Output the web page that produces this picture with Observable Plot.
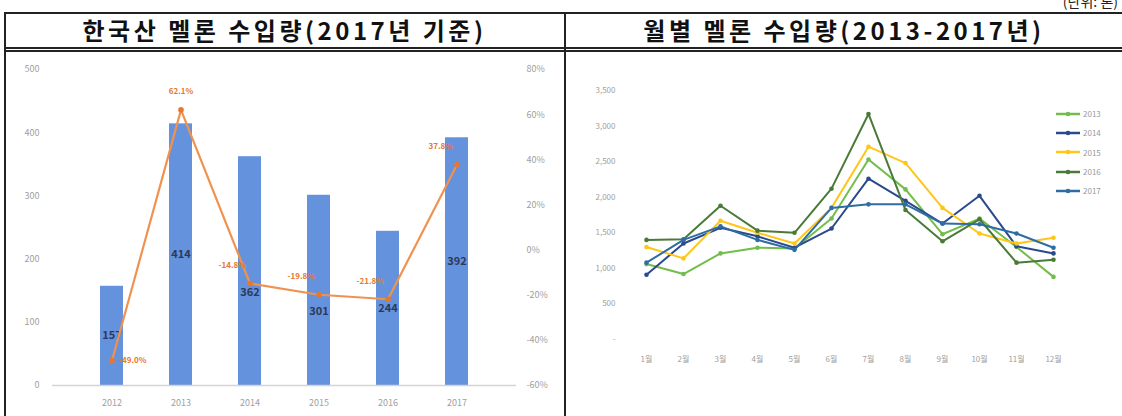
<!DOCTYPE html>
<html>
<head>
<meta charset="utf-8">
<script src="https://cdn.jsdelivr.net/npm/d3@7"></script>
<script src="https://cdn.jsdelivr.net/npm/@observablehq/plot@0.6"></script>
<style>
  html, body { margin: 0; padding: 0; background: #fff; }
  #page { position: relative; width: 1122px; height: 416px; overflow: hidden; background: #fff; font-family: "Noto Sans CJK KR", "Noto Sans", sans-serif; }
  .hline { position: absolute; background: #222; }
  .vline { position: absolute; background: #222; }
  .title { position: absolute; top: 12px; height: 36px; line-height: 36px; text-align: center; font-weight: 700; font-size: 24px; letter-spacing: 3.5px; color: #111; }
  #unit { position: absolute; right: 4px; top: -8px; font-size: 14px; line-height: 18px; color: #222; }
  #left, #right { position: absolute; top: 52px; }
  #legend { position: absolute; left: 1055px; top: 104px; font-size: 8px; color: #999; }
  #legend .item { height: 19.3px; display: flex; align-items: center; }
  #legend svg { margin-right: 2px; }
</style>
</head>
<body>
<div id="page">
  <div id="unit">(단위: 톤)</div>
  <div class="hline" style="left:4px; top:12px; width:1118px; height:2px;"></div>
  <div class="hline" style="left:4px; top:47px; width:1118px; height:1.5px;"></div>
  <div class="hline" style="left:4px; top:50px; width:1118px; height:1.5px;"></div>
  <div class="vline" style="left:4px; top:12px; width:1.5px; height:404px;"></div>
  <div class="vline" style="left:564px; top:12px; width:1.5px; height:404px;"></div>
  <div class="title" style="left:5px; width:559px;">한국산 멜론 수입량(2017년 기준)</div>
  <div class="title" style="left:566px; width:556px;">월별 멜론 수입량(2013-2017년)</div>
  <div id="left"></div>
  <div id="right"></div>
  <div id="legend"></div>
</div>
<script>
// ---- Left chart data ----
const years = ["2012", "2013", "2014", "2015", "2016", "2017"];
const imports = [157, 414, 362, 301, 244, 392];
const growth = [-49.0, 62.1, -14.8, -19.8, -21.8, 37.8];
const countTicks = [0, 100, 200, 300, 400, 500];
const pctTicks = [-60, -40, -20, 0, 20, 40, 60, 80];

// ---- Right chart data ----
const months = ["1월", "2월", "3월", "4월", "5월", "6월", "7월", "8월", "9월", "10월", "11월", "12월"];
const seriesNames = ["2013", "2014", "2015", "2016", "2017"];
const v2013 = [1060, 920, 1210, 1290, 1280, 1700, 2530, 2110, 1480, 1700, 1300, 880];
const v2014 = [910, 1350, 1570, 1450, 1290, 1560, 2260, 1950, 1630, 2020, 1310, 1210];
const v2015 = [1300, 1140, 1670, 1500, 1350, 1850, 2710, 2480, 1850, 1490, 1350, 1430];
const v2016 = [1400, 1410, 1880, 1530, 1500, 2120, 3170, 1820, 1380, 1690, 1080, 1120];
const v2017 = [1080, 1400, 1590, 1400, 1260, 1850, 1900, 1900, 1630, 1620, 1490, 1290];
const monthTicks = [0, 500, 1000, 1500, 2000, 2500, 3000, 3500];
const seriesColors = ["#72BD4C", "#2A4A8C", "#FFC61A", "#4A7A38", "#2E6DA4"];

// ---- Left chart ----
const pctMin = -60, pctMax = 80, countMax = 500;
const toCount = p => (p - pctMin) / (pctMax - pctMin) * countMax;
const barData = years.map((y, i) => ({year: y, value: imports[i]}));
const lineData = years.map((y, i) => ({year: y, pct: growth[i], pos: toCount(growth[i])}));
const fmtPct = d => d.pct.toFixed(1) + "%";
const shifted = ["2014", "2015"]; // labels nudged below the line in the source

const left = Plot.plot({
  width: 559, height: 364,
  marginLeft: 47, marginRight: 48, marginTop: 17, marginBottom: 31,
  x: {domain: years, padding: 0.67},
  y: {domain: [0, countMax]},
  style: {fontFamily: "'Noto Sans CJK KR', 'Noto Sans', sans-serif", fontSize: "9px", color: "#a0a0a0", background: "transparent"},
  marks: [
    Plot.axisX({tickSize: 0, tickPadding: 14, label: null}),
    Plot.axisY({ticks: countTicks, tickSize: 0, tickPadding: 13, label: null}),
    Plot.axisY({anchor: "right", ticks: pctTicks.map(toCount), tickFormat: (d, i) => pctTicks[i] + "%", tickSize: 0, tickPadding: 10, label: null}),
    Plot.barY(barData, {x: "year", y: "value", fill: "#6592DC"}),
    Plot.ruleY([0], {stroke: "#d4d4d4", strokeWidth: 1.5}),
    Plot.text(barData.filter(d => !shifted.includes(d.year)), {x: "year", y: d => d.value / 2, text: d => String(d.value), fill: "#2B3A5A", fontWeight: "bold", fontSize: 11}),
    Plot.text(barData.filter(d => shifted.includes(d.year)), {x: "year", y: d => d.value / 2, text: d => String(d.value), dy: 21, fill: "#2B3A5A", fontWeight: "bold", fontSize: 11}),
    Plot.line(lineData, {x: "year", y: "pos", stroke: "#F0924F", strokeWidth: 2.2}),
    Plot.dot(lineData, {x: "year", y: "pos", r: 2.8, fill: "#E8772E"}),
    Plot.text(lineData.filter(d => d.year === "2012"), {x: "year", y: "pos", text: fmtPct, textAnchor: "start", dx: 7, fill: "#E8772E", fontWeight: "bold", fontSize: 8}),
    Plot.text(lineData.filter(d => d.year === "2013"), {x: "year", y: "pos", text: fmtPct, dy: -18, fill: "#E8772E", fontWeight: "bold", fontSize: 8}),
    Plot.text(lineData.filter(d => d.year !== "2012" && d.year !== "2013"), {x: "year", y: "pos", text: fmtPct, textAnchor: "end", dx: -4, dy: -18, fill: "#E8772E", fontWeight: "bold", fontSize: 8})
  ]
});
document.getElementById("left").style.left = "5px";
document.getElementById("left").appendChild(left);

// ---- Right chart ----
const valuesBySeries = [v2013, v2014, v2015, v2016, v2017];
const monthly = [];
seriesNames.forEach((s, si) => months.forEach((m, mi) => monthly.push({year: s, month: m, value: valuesBySeries[si][mi]})));

const right = Plot.plot({
  width: 557, height: 364,
  marginLeft: 59, marginRight: 48, marginTop: 38, marginBottom: 77,
  x: {type: "point", domain: months, padding: 0.5},
  y: {domain: [0, 3500]},
  color: {domain: seriesNames, range: seriesColors},
  style: {fontFamily: "'Noto Sans CJK KR', 'Noto Sans', sans-serif", fontSize: "8px", color: "#a0a0a0", background: "transparent"},
  marks: [
    Plot.axisX({tickSize: 0, tickPadding: 17, label: null}),
    Plot.axisY({ticks: monthTicks, tickFormat: d => d === 0 ? "-" : d3.format(",")(d), tickSize: 0, tickPadding: 9, label: null}),
    Plot.line(monthly, {x: "month", y: "value", z: "year", stroke: "year", strokeWidth: 2}),
    Plot.dot(monthly, {x: "month", y: "value", fill: "year", r: 2.3})
  ]
});
document.getElementById("right").style.left = "565px";
document.getElementById("right").appendChild(right);

// ---- Legend ----
const legend = document.getElementById("legend");
seriesNames.forEach((s, i) => {
  const item = document.createElement("div");
  item.className = "item";
  item.innerHTML = `<svg width="26" height="6"><line x1="1" y1="3" x2="25" y2="3" stroke="${seriesColors[i]}" stroke-width="2.5"/><circle cx="13" cy="3" r="2.3" fill="${seriesColors[i]}"/></svg><span>${s}</span>`;
  legend.appendChild(item);
});
</script>
</body>
</html>
